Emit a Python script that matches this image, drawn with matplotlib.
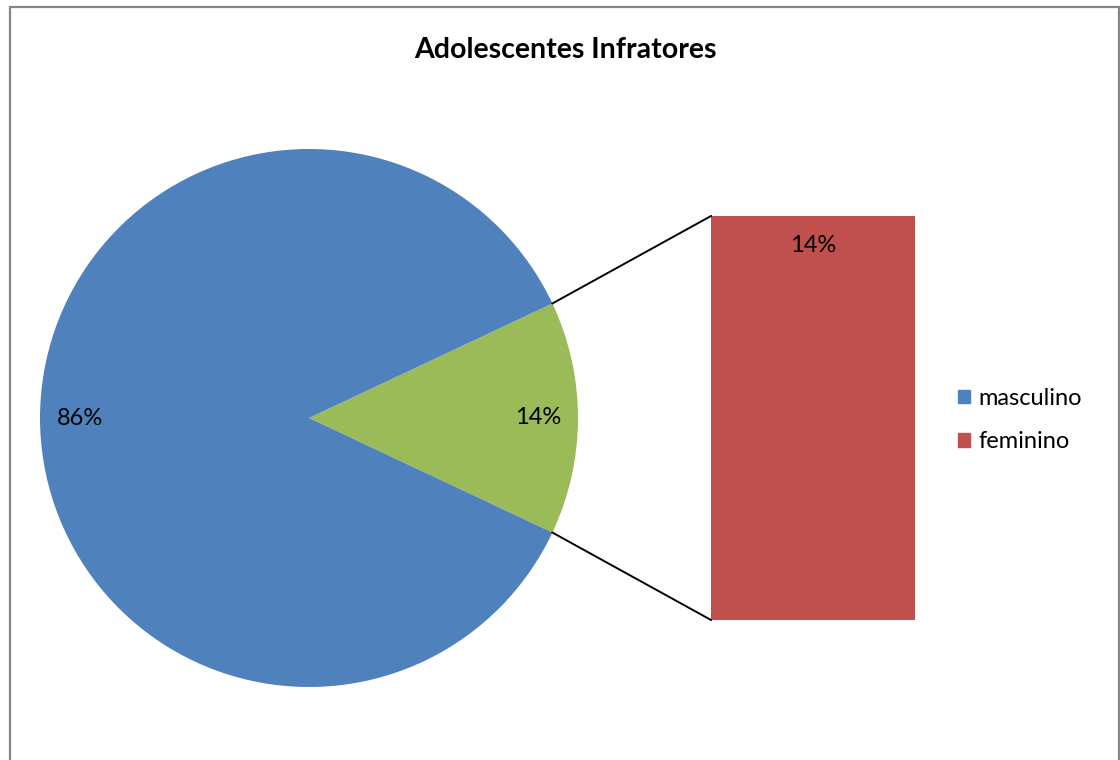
import numpy as np
import matplotlib
matplotlib.use('Agg')
import matplotlib.pyplot as plt
from matplotlib.patches import Rectangle

plt.rcParams['font.family'] = ['Lato', 'DejaVu Sans']

title = 'Adolescentes Infratores'
categories = ['masculino', 'feminino']
values = [86, 14]
colors = ['#4F81BD', '#C0504D']
other_color = '#9BBB59'

W, H = 1120, 760
fig = plt.figure(figsize=(W / 100, H / 100), dpi=100)
ax = fig.add_axes([0, 0, 1, 1])

# pie: the "other" wedge (feminino) is split out into the bar on the right
total = sum(values)
other = values[1]
half = 360.0 * other / total / 2
cx, cy, r = 309, H - 418, 269
wedges, texts, autotexts = ax.pie(
    [other, values[0]], colors=[other_color, colors[0]],
    startangle=-half, counterclock=True, center=(cx, cy), radius=r,
    autopct='%1.0f%%', pctdistance=0.85,
    textprops=dict(fontsize=17, color='black'),
    wedgeprops=dict(linewidth=0), frame=True)

# bar of the split wedge
bar_x, bar_w = 813, 204
bar_bottom, bar_full = H - 620, 404
share = values[1] / other
ax.bar([bar_x], [bar_full * share], width=bar_w, bottom=bar_bottom,
       color=colors[1], linewidth=0)
ax.text(bar_x, bar_bottom + bar_full * share - 30, f'{values[1] / total:.0%}',
        ha='center', va='center', fontsize=17)

# connector lines
t = np.deg2rad(half)
top = bar_bottom + bar_full * share
ax.plot([cx + r * np.cos(t), bar_x - bar_w / 2], [cy + r * np.sin(t), top],
        color='black', lw=1.4)
ax.plot([cx + r * np.cos(t), bar_x - bar_w / 2], [cy - r * np.sin(t), bar_bottom],
        color='black', lw=1.4)

ax.set_xlim(0, W)
ax.set_ylim(0, H)
ax.set_aspect('auto')
ax.axis('off')

# chart border
ax.add_patch(Rectangle((10, -20), 1109, H - 7 + 20, fill=False,
                       edgecolor='#868686', lw=1.6, clip_on=False))

ax.text(565, H - 50, title, ha='center', va='center', fontsize=20.5,
        fontweight='bold')

handles = [Rectangle((0, 0), 1, 1, color=c) for c in colors]
ax.legend(handles, categories, loc='upper left',
          bbox_to_anchor=(939 / W, 1 - 369 / H), frameon=False,
          fontsize=17, handlelength=0.52, handleheight=0.52,
          handletextpad=0.35, labelspacing=0.95, borderpad=0.3)

fig.savefig('out.png', dpi=100)
